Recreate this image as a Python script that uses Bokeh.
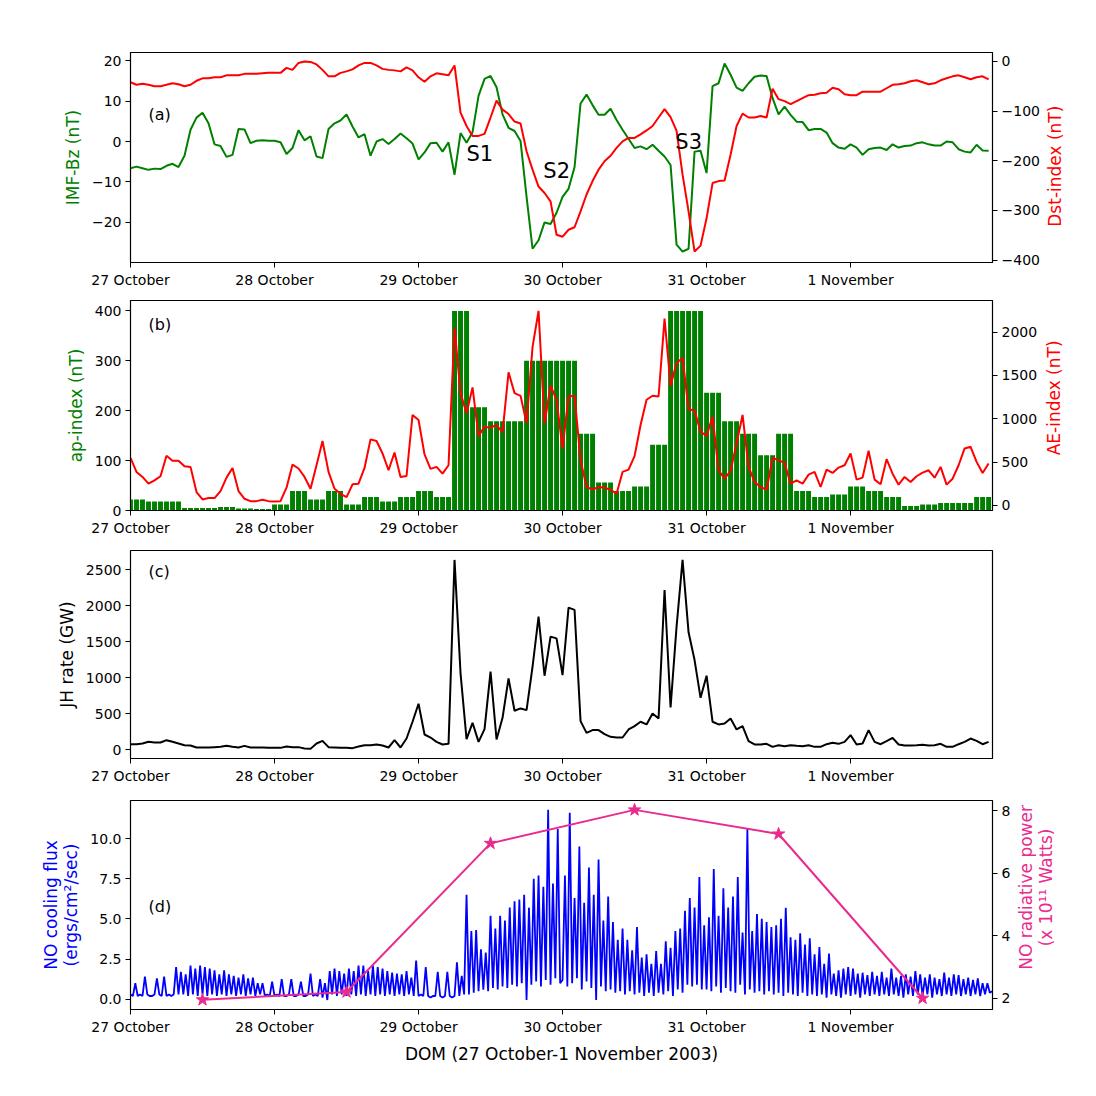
import numpy as np
from bokeh.plotting import figure
from bokeh.models import (Range1d, LinearAxis, FixedTicker, CustomJSTickFormatter, Label)
from bokeh.layouts import column, row
from bokeh.core.properties import value
from bokeh.embed import file_html
from bokeh.resources import INLINE

# ---------------- data ----------------
day_ticks = [0, 24, 48, 72, 96, 120]          # hours since 27 Oct 2003 00 UT
day_labels = ["27 October", "28 October", "29 October", "30 October",
              "31 October", "1 November"]

hours = list(range(144))

imf_bz = [-6.6, -6.2, -6.6, -7.0, -6.7, -6.8, -6.0, -5.5, -6.3, -3.5,
          2.9, 5.9, 7.1, 4.5, -0.7, -1.1, -3.8, -3.3, 3.1, 3.0,
          -0.4, 0.2, 0.3, 0.2, 0.2, -0.2, -3.1, -1.6, 2.8, 0.3,
          1.3, -3.7, -4.1, 3.1, 4.5, 5.2, 6.7, 3.7, 1.0, 1.8,
          -3.5, 0.0, 0.6, -0.6, 0.6, 2.0, 0.8, -0.5, -4.4, -2.7,
          -0.4, -0.3, -2.5, -0.2, -8.2, 2.1, -0.3, 2.3, 11.3, 15.5,
          16.2, 13.4, 6.7, 3.4, 2.6, 0.1, -13.6, -26.5, -24.4, -20.0,
          -20.4, -17.6, -13.7, -11.7, -6.3, 9.4, 11.6, 9.0, 6.6, 6.6,
          8.1, 5.3, 2.9, 0.7, -1.6, -1.2, -1.9, -0.8, -2.3, -3.7,
          -5.8, -25.5, -27.2, -26.5, -2.5, -2.3, -7.8, 13.7, 14.4, 19.3,
          16.5, 13.3, 12.5, 14.4, 16.0, 16.3, 16.2, 10.7, 6.7, 8.6,
          6.6, 4.9, 4.8, 2.8, 3.1, 3.1, 2.2, -0.4, -1.5, -1.8,
          -0.7, -1.5, -3.3, -1.9, -1.6, -1.5, -2.1, -0.7, -1.5, -1.1,
          -1.0, -0.4, -0.2, -0.7, -1.0, -1.0, 0.0, -0.2, -1.9, -2.5,
          -2.7, -0.8, -2.2, -2.3]

dst = [-42, -47, -45, -47, -50, -50, -47, -44, -46, -50,
       -47, -39, -34, -34, -32, -32, -28, -28, -28, -25,
       -25, -25, -24, -23, -23, -23, -13, -17, -3, 0,
       -1, -6, -17, -30, -30, -23, -20, -16, -8, -3,
       -3, -8, -15, -17, -18, -20, -12, -18, -32, -41,
       -30, -24, -26, -28, -8, -103, -130, -150, -150, -146,
       -113, -79, -97, -106, -121, -125, -181, -218, -252, -265,
       -282, -349, -353, -339, -334, -302, -268, -241, -218, -201,
       -190, -174, -161, -154, -154, -147, -139, -130, -113, -96,
       -112, -140, -228, -302, -383, -371, -316, -245, -241, -240,
       -188, -130, -105, -113, -113, -110, -113, -55, -76, -80,
       -86, -80, -74, -68, -67, -64, -63, -53, -56, -66,
       -68, -68, -61, -61, -61, -61, -54, -47, -46, -44,
       -40, -38, -42, -46, -44, -38, -34, -30, -28, -32,
       -36, -32, -30, -36]

# 3-hourly ap index (48 intervals)
ap_3h = [22, 18, 18, 5, 5, 7, 4, 3,
         12, 39, 22, 39, 12, 27, 18, 27,
         39, 27, 400, 207, 179, 179, 300, 300,
         300, 154, 56, 39, 48, 132, 400, 400,
         236, 179, 154, 111, 154, 39, 27, 32,
         48, 39, 27, 9, 12, 15, 15, 27]

ae = [549, 387, 329, 251, 290, 337, 573, 515, 515, 453,
      445, 155, 70, 85, 85, 166, 321, 433, 166, 77,
      50, 50, 66, 50, 46, 50, 205, 472, 426, 329,
      193, 464, 743, 387, 193, 135, 97, 244, 251, 433,
      762, 743, 600, 406, 611, 329, 340, 1044, 986, 588,
      422, 445, 367, 464, 2050, 1296, 1064, 1362, 801, 909,
      897, 928, 843, 1536, 1296, 1265, 948, 1830, 2244, 948,
      1381, 1219, 658, 1257, 1265, 522, 213, 182, 213, 205,
      182, 135, 387, 414, 569, 928, 1219, 1265, 1257, 2155,
      1381, 1644, 1702, 1110, 1095, 851, 801, 1025, 406, 309,
      398, 716, 1044, 445, 271, 213, 182, 549, 522, 491,
      251, 290, 251, 356, 387, 213, 414, 375, 437, 464,
      600, 298, 321, 631, 298, 244, 534, 367, 240, 329,
      271, 337, 379, 406, 321, 445, 240, 309, 464, 658,
      677, 503, 375, 484]

jh_rate = [74, 74, 84, 107, 98, 98, 130, 107, 84, 60,
           56, 28, 28, 28, 33, 37, 51, 37, 28, 51,
           28, 28, 28, 23, 23, 23, 42, 33, 33, 14,
           9, 84, 121, 33, 28, 23, 23, 19, 42, 60,
           60, 70, 56, 28, 130, 28, 153, 386, 637, 209,
           167, 107, 70, 79, 2639, 1059, 144, 372, 107, 283,
           1083, 139, 441, 990, 539, 572, 548, 1152, 1849, 1027,
           1571, 1547, 1036, 1975, 1943, 395, 232, 270, 270, 214,
           177, 167, 167, 279, 325, 386, 349, 502, 432, 2221,
           585, 1710, 2639, 1631, 1245, 720, 1027, 386, 349, 362,
           432, 279, 325, 116, 70, 70, 79, 37, 60, 46,
           60, 51, 46, 60, 37, 37, 74, 93, 79, 107,
           200, 70, 84, 270, 107, 74, 116, 163, 70, 56,
           56, 60, 65, 56, 60, 79, 37, 37, 74, 107,
           153, 121, 74, 107]

# NO cooling flux, one value every 0.4 h (60 per day)
no_day1 = [0.3, 0.2, 1.0, 0.2, 0.3, 0.2, 1.4, 0.3, 0.2, 0.2, 0.3, 1.3, 0.3, 0.2, 1.4, 0.2, 0.3, 0.2, 0.3, 2.0,
           0.3, 1.7, 0.3, 1.55, 0.2, 2.1, 0.3, 1.9, 0.2, 2.1, 0.3, 2.0, 0.2, 1.9, 0.3, 1.8, 0.2, 1.55, 0.3, 1.8,
           0.2, 1.55, 0.3, 1.45, 0.2, 1.35, 0.3, 1.55, 0.2, 1.3, 0.3, 1.35, 0.2, 1.0, 0.3, 1.0, 0.2, 0.3, 0.2, 1.1]
no_day2 = [0.2, 0.3, 0.2, 1.25, 0.2, 0.2, 0.3, 1.25, 0.2, 0.2, 0.3, 1.1, 0.2, 0.2, 0.3, 1.6, 0.2, 0.3, 0.2, 1.25,
           0.1, 1.0, -0.05, 1.75, 0.3, 1.9, 0.2, 1.75, 0.3, 1.6, 0.2, 1.9, 0.3, 1.75, 0.2, 2.1, 0.3, 2.1, 0.2, 1.75,
           0.3, 2.1, 0.2, 2.0, 0.3, 1.9, 0.2, 1.75, 0.3, 1.65, 0.2, 1.6, 0.3, 1.55, 0.2, 1.75, 0.3, 1.35, 0.2, 2.4]
no_day3 = [0.2, 0.3, 0.2, 2.0, 0.2, 0.1, 0.2, 0.2, 1.7, 0.2, 0.1, 0.2, 1.7, 0.2, 0.1, 0.2, 2.3, 0.2, 1.45, 0.3,
           6.5, 0.3, 4.25, 0.4, 4.3, 0.5, 3.1, 0.6, 2.9, 0.5, 5.2, 0.7, 4.4, 0.6, 5.2, 0.8, 4.9, 0.7, 5.7, 0.9,
           6.1, 0.8, 6.2, 1.0, 6.5, -0.05, 5.7, 0.9, 7.5, 1.1, 7.7, 0.8, 7.0, 1.2, 11.8, 0.9, 7.2, 1.3, 10.6, 1.0]
no_day4 = [1.2, 7.7, 0.8, 11.6, 1.0, 6.3, 1.3, 9.5, 0.6, 6.0, 1.1, 8.2, 0.7, 6.5, -0.05, 8.7, 0.8, 4.9, 0.5, 6.4,
           0.6, 4.8, 0.4, 3.7, 0.5, 4.4, 0.3, 3.7, 0.5, 3.05, 0.3, 4.5, 0.4, 2.6, 0.2, 2.8, 0.4, 2.2, 0.2, 3.0,
           0.4, 2.2, 0.3, 3.6, 0.5, 3.2, 0.2, 4.25, 0.6, 4.4, 0.4, 5.5, 0.9, 6.3, 0.8, 5.7, 0.9, 7.6, 0.6, 4.6]
no_day5 = [0.6, 5.1, 0.5, 8.1, 0.8, 5.2, 0.4, 6.9, 0.7, 5.7, 0.5, 6.4, 0.4, 7.6, 0.9, 4.15, 0.3, 10.6, 0.6, 4.25,
           0.4, 5.3, 0.5, 5.0, 0.3, 4.8, 0.5, 4.5, 0.3, 4.6, 0.4, 5.0, 0.2, 5.7, 0.4, 3.85, 0.3, 3.7, 0.2, 4.1,
           0.4, 3.4, 0.2, 3.8, 0.3, 2.8, 0.2, 3.25, 0.3, 2.2, 0.1, 2.85, 0.3, 1.6, 0.2, 1.8, 0.1, 1.9, 0.3, 2.0]
no_day6 = [0.2, 1.9, 0.3, 1.6, 0.1, 1.65, 0.3, 1.5, 0.2, 1.7, 0.3, 1.45, 0.2, 1.7, 0.3, 1.35, 0.2, 1.9, 0.3, 1.35,
           0.2, 1.45, 0.1, 1.55, 0.3, 1.4, 0.2, 1.75, 0.3, 1.55, 0.2, 1.35, 0.3, 1.55, 0.1, 1.35, 0.3, 1.25, 0.2, 1.65,
           0.3, 1.35, 0.2, 1.55, 0.3, 1.5, 0.2, 1.25, 0.3, 1.35, 0.2, 1.2, 0.3, 1.3, 0.2, 1.0, 0.3, 1.0, 0.4, 0.5]
no_step_h = 0.4

# daily NO radiative power (x 1e11 W), at mid-day
no_power_hours = [12, 36, 60, 84, 108, 132]
no_power = [1.95, 2.2, 6.95, 8.02, 7.25, 2.0]

# ---------------- styling ----------------
FONT = "DejaVu Sans"
GREEN = "#008000"
RED = "#ff0000"
BLUE = "#0000ff"
PINK = "#ea2a8e"
FRAME_W = 862
LEFT_B = 130

minus_fmt_code = "return tick < 0 ? '\u2212' + Math.abs(tick) : String(tick);"


def style_axis(ax, color="black"):
    ax.axis_label_text_font = FONT
    ax.axis_label_text_font_size = "17px"
    ax.axis_label_text_font_style = "normal"
    ax.axis_label_text_color = color
    ax.axis_label_text_line_height = 1.0
    ax.axis_label_standoff = 6
    ax.major_label_text_font = FONT
    ax.major_label_text_font_size = "14px"
    ax.major_label_text_color = "black"
    ax.major_label_standoff = 4
    ax.major_tick_in = 0
    ax.major_tick_out = 5
    ax.major_tick_line_color = "black"
    ax.minor_tick_line_color = None
    ax.axis_line_color = "black"


def make_fig(height, top, bottom, right, y0, y1, yticks, ylabel, ycolor, fmt_code):
    p = figure(width=LEFT_B + FRAME_W + right, height=height, x_range=Range1d(0, 143.65),
               y_range=Range1d(y0, y1), output_backend="svg", toolbar_location=None,
               min_border_left=LEFT_B, min_border_right=right,
               min_border_top=top, min_border_bottom=bottom)
    p.xgrid.visible = False
    p.ygrid.visible = False
    p.outline_line_color = "black"
    p.outline_line_alpha = 1.0
    p.outline_line_width = 1.2
    xa = p.xaxis[0]
    xa.ticker = FixedTicker(ticks=day_ticks)
    xa.formatter = CustomJSTickFormatter(args=dict(labels=day_labels),
                                         code="return labels[Math.round(tick / 24)];")
    style_axis(xa)
    ya = p.yaxis[0]
    ya.ticker = FixedTicker(ticks=yticks)
    ya.formatter = CustomJSTickFormatter(code=fmt_code)
    ya.axis_label = ylabel
    style_axis(ya, ycolor)
    return p


def add_right(p, name, y0, y1, yticks, fmt_code):
    p.extra_y_ranges = {name: Range1d(y0, y1)}
    ax = LinearAxis(y_range_name=name, ticker=FixedTicker(ticks=yticks),
                    formatter=CustomJSTickFormatter(code=fmt_code))
    style_axis(ax)
    p.add_layout(ax, "right")


def right_title(height, bottom, frame_h, width, xc, text, color):
    """Narrow strip to the right of a panel holding its right-axis title, read bottom-to-top."""
    f = figure(width=width, height=height, x_range=Range1d(0, width), y_range=Range1d(0, height),
               output_backend="svg", toolbar_location=None, min_border=0,
               x_axis_type=None, y_axis_type=None)
    f.outline_line_color = None
    f.xgrid.visible = False
    f.ygrid.visible = False
    f.text(x=[xc], y=[bottom + frame_h / 2], text=[text], angle=np.pi / 2,
           text_font=value(FONT), text_font_size="17px", text_color=color,
           text_align="center", text_baseline="middle", text_line_height=1.0)
    return f


def panel_label(p, x, y, text, size="16px"):
    p.add_layout(Label(x=x, y=y, text=text, text_font=FONT, text_font_size=size,
                       text_color="black", text_baseline="middle", text_align="left"))


# ---------------- panel (a) ----------------
pa = make_fig(290, 52, 28, 50, -29.9, 22.0, [-20, -10, 0, 10, 20], "IMF-Bz (nT)", GREEN,
              minus_fmt_code)
add_right(pa, "dst", -405, 18, [-400, -300, -200, -100, 0], minus_fmt_code)
pa.line(hours, imf_bz, line_color=GREEN, line_width=2)
pa.line(hours, dst, line_color=RED, line_width=2, y_range_name="dst")
panel_label(pa, 3.0, 6.7, "(a)")
panel_label(pa, 56.0, -3.0, "S1", size="21px")
panel_label(pa, 68.8, -7.2, "S2", size="21px")
panel_label(pa, 90.8, 0.0, "S3", size="21px")
ta = right_title(290, 28, 210, 40, 12, "Dst-index (nT)", RED)

# ---------------- panel (b) ----------------
pb = make_fig(248, 10, 28, 50, 0, 421, [0, 100, 200, 300, 400], "ap-index (nT)", GREEN,
              "return String(tick);")
add_right(pb, "ae", -58, 2364, [0, 500, 1000, 1500, 2000], "return String(tick);")
ap_hourly = np.repeat(ap_3h, 3)
pb.vbar(x=hours, top=ap_hourly, width=0.82, bottom=0, fill_color=GREEN, line_color=None)
pb.line(hours, ae, line_color=RED, line_width=2, y_range_name="ae")
panel_label(pb, 3.0, 372, "(b)")
tb = right_title(248, 28, 210, 40, 11, "AE-index (nT)", RED)

# ---------------- panel (c) ----------------
pc = make_fig(248, 12, 28, 50, -125, 2770, [0, 500, 1000, 1500, 2000, 2500], "JH rate (GW)",
              "black", "return String(tick);")
pc.line(hours, jh_rate, line_color="black", line_width=2)
panel_label(pc, 3.0, 2472, "(c)")

# ---------------- panel (d) ----------------
pd_ = make_fig(285, 14, 62, 22, -0.64, 12.37, [0, 2.5, 5.0, 7.5, 10.0],
               "NO cooling flux\n(ergs/cm\u00b2/sec)", BLUE, "return tick.toFixed(1);")
add_right(pd_, "pow", 1.64, 8.32, [2, 4, 6, 8], "return String(tick);")
no_flux = no_day1 + no_day2 + no_day3 + no_day4 + no_day5 + no_day6
no_time = np.arange(len(no_flux)) * no_step_h
pd_.line(no_time, no_flux, line_color=BLUE, line_width=1.8)
pd_.line(no_power_hours, no_power, line_color=PINK, line_width=2, y_range_name="pow")
pd_.scatter(no_power_hours, no_power, marker="star", size=13, fill_color=PINK,
            line_color=PINK, y_range_name="pow")
pd_.xaxis[0].axis_label = "DOM (27 October-1 November 2003)"
panel_label(pd_, 3.0, 5.8, "(d)")
td = right_title(285, 62, 209, 56, 21, "NO radiative power\n(x 10\u00b9\u00b9 Watts)", PINK)

layout = column(row(pa, ta), row(pb, tb), pc, row(pd_, td))
open("out.html", "w").write(file_html(layout, INLINE))
